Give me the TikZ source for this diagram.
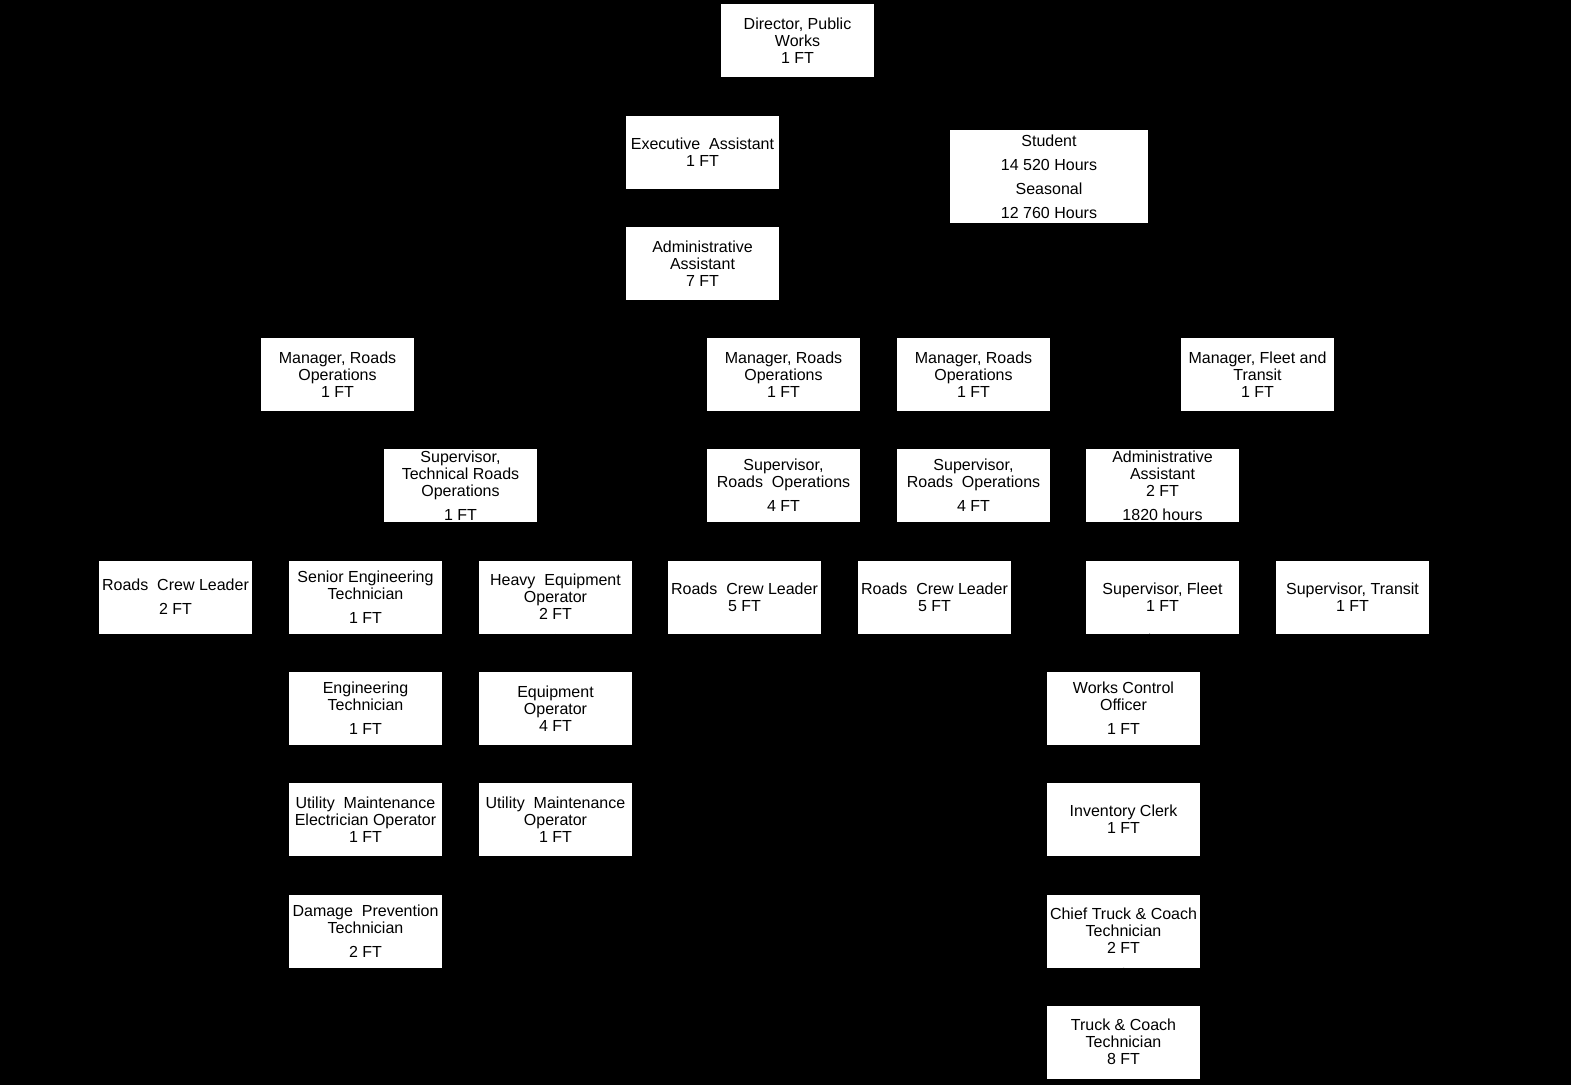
\documentclass[tikz,border=0pt]{standalone}
\usepackage{fontspec}
\setmainfont{Liberation Sans}
\usetikzlibrary{positioning}

\begin{document}
\begin{tikzpicture}[
  x=0.75pt, y=-0.75pt,
  font=\fontsize{12}{12.75}\selectfont,
  g/.style={fill=white, text=black, align=center, inner sep=0pt,
            minimum width=114.75pt, minimum height=54.75pt},
  wide/.style={g, minimum width=148.5pt, minimum height=69.75pt},
  link/.style={draw=black, line width=0.75pt}
]

% page
\fill[black] (0,0) rectangle (1571,1085);

% ---- top
\node[g] (dir) at (797.5,40.5) {Director, Public\\Works\\1 FT};
\node[g] (exa) at (702.5,152)  {Executive\ \ Assistant\\1 FT};
\node[wide] (stu) at (1049,176.5) {Student\\[5.25pt]14 520 Hours\\[5.25pt]Seasonal\\[5.25pt]12 760 Hours};
\node[g] (ada) at (702.5,263.5) {Administrative\\Assistant\\7 FT};

% ---- managers
\node[g] (mgrw) at (337.5,374.5)  {Manager, Roads\\Operations\\1 FT};
\node[g] (mgrc) at (783.5,374.5)  {Manager, Roads\\Operations\\1 FT};
\node[g] (mgre) at (973.5,374.5)  {Manager, Roads\\Operations\\1 FT};
\node[g] (mgft) at (1257.5,374.5) {Manager, Fleet and\\Transit\\1 FT};

% ---- supervisors
\node[g] (supt) at (460.5,485.5)  {Supervisor,\\Technical Roads\\Operations\\[5.25pt]1 FT};
\node[g] (supc) at (783.5,485.5)  {Supervisor,\\Roads\ \ Operations\\[5.25pt]4 FT};
\node[g] (supe) at (973.5,485.5)  {Supervisor,\\Roads\ \ Operations\\[5.25pt]4 FT};
\node[g] (adb)  at (1162.5,485.5) {Administrative\\Assistant\\2 FT\\[5.25pt]1820 hours};

% ---- third row
\node[g] (rclw) at (175.5,597)   {Roads\ \ Crew Leader\\[5.25pt]2 FT};
\node[g] (set)  at (365.5,597)   {Senior Engineering\\Technician\\[5.25pt]1 FT};
\node[g] (heo)  at (555.5,597)   {Heavy\ \ Equipment\\Operator\\2 FT};
\node[g] (rclc) at (744.5,597)   {Roads\ \ Crew Leader\\5 FT};
\node[g] (rcle) at (934.5,597)   {Roads\ \ Crew Leader\\5 FT};
\node[g] (supf) at (1162.5,597)  {Supervisor, Fleet\\1 FT};
\node[g] (suptr) at (1352.5,597) {Supervisor, Transit\\1 FT};

% ---- technical roads staff
\node[g] (engt) at (365.5,708.5) {Engineering\\Technician\\[5.25pt]1 FT};
\node[g] (eqop) at (555.5,708.5) {Equipment\\Operator\\4 FT};
\node[g] (ume)  at (365.5,819.5) {Utility\ \ Maintenance\\Electrician Operator\\1 FT};
\node[g] (umo)  at (555.5,819.5) {Utility\ \ Maintenance\\Operator\\1 FT};
\node[g] (dpt)  at (365.5,931)   {Damage\ \ Prevention\\Technician\\[5.25pt]2 FT};

% ---- fleet staff
\node[g] (wco)  at (1123.5,708.5) {Works Control\\Officer\\[5.25pt]1 FT};
\node[g] (invc) at (1123.5,819.5) {Inventory Clerk\\1 FT};
\node[g] (ctct) at (1123.5,931)   {Chief Truck \& Coach\\Technician\\2 FT};
\node[g] (tct)  at (1123.5,1042)  {Truck \& Coach\\Technician\\8 FT};

% connectors (black on the black page)
\coordinate (trunk) at (797.5,320);
\draw[link] (dir.south) -- (trunk);
\draw[link] (exa.east) -- (exa.east -| dir.south);
\draw[link] (stu.west) -- (stu.west -| dir.south);
\draw[link] (ada.east) -- (ada.east -| dir.south);
\foreach \m in {mgrw,mgrc,mgre,mgft}
  \draw[link] (trunk) -| (\m.north);
\draw[link] (mgrw.south) |- (460.5,430) -- (supt.north);
\draw[link] (mgrc.south) -- (supc.north);
\draw[link] (mgre.south) -- (supe.north);
\draw[link] (mgft.south) |- (1162.5,430) -- (adb.north);
\foreach \c in {rclw,set,heo}
  \draw[link] (supt.south) |- (460.5,541) -| (\c.north);
\draw[link] (supc.south) |- (783.5,541) -| (rclc.north);
\draw[link] (supe.south) |- (973.5,541) -| (rcle.north);
\draw[link] (adb.south) -- (supf.north);
\draw[link] (adb.south) |- (1257.5,541) -| (suptr.north);
\draw[link] (set) -- (engt) -- (ume) -- (dpt);
\draw[link] (heo) -- (eqop) -- (umo);
\draw[link] (supf) -- (wco) -- (invc) -- (ctct) -- (tct);
\end{tikzpicture}
\end{document}
